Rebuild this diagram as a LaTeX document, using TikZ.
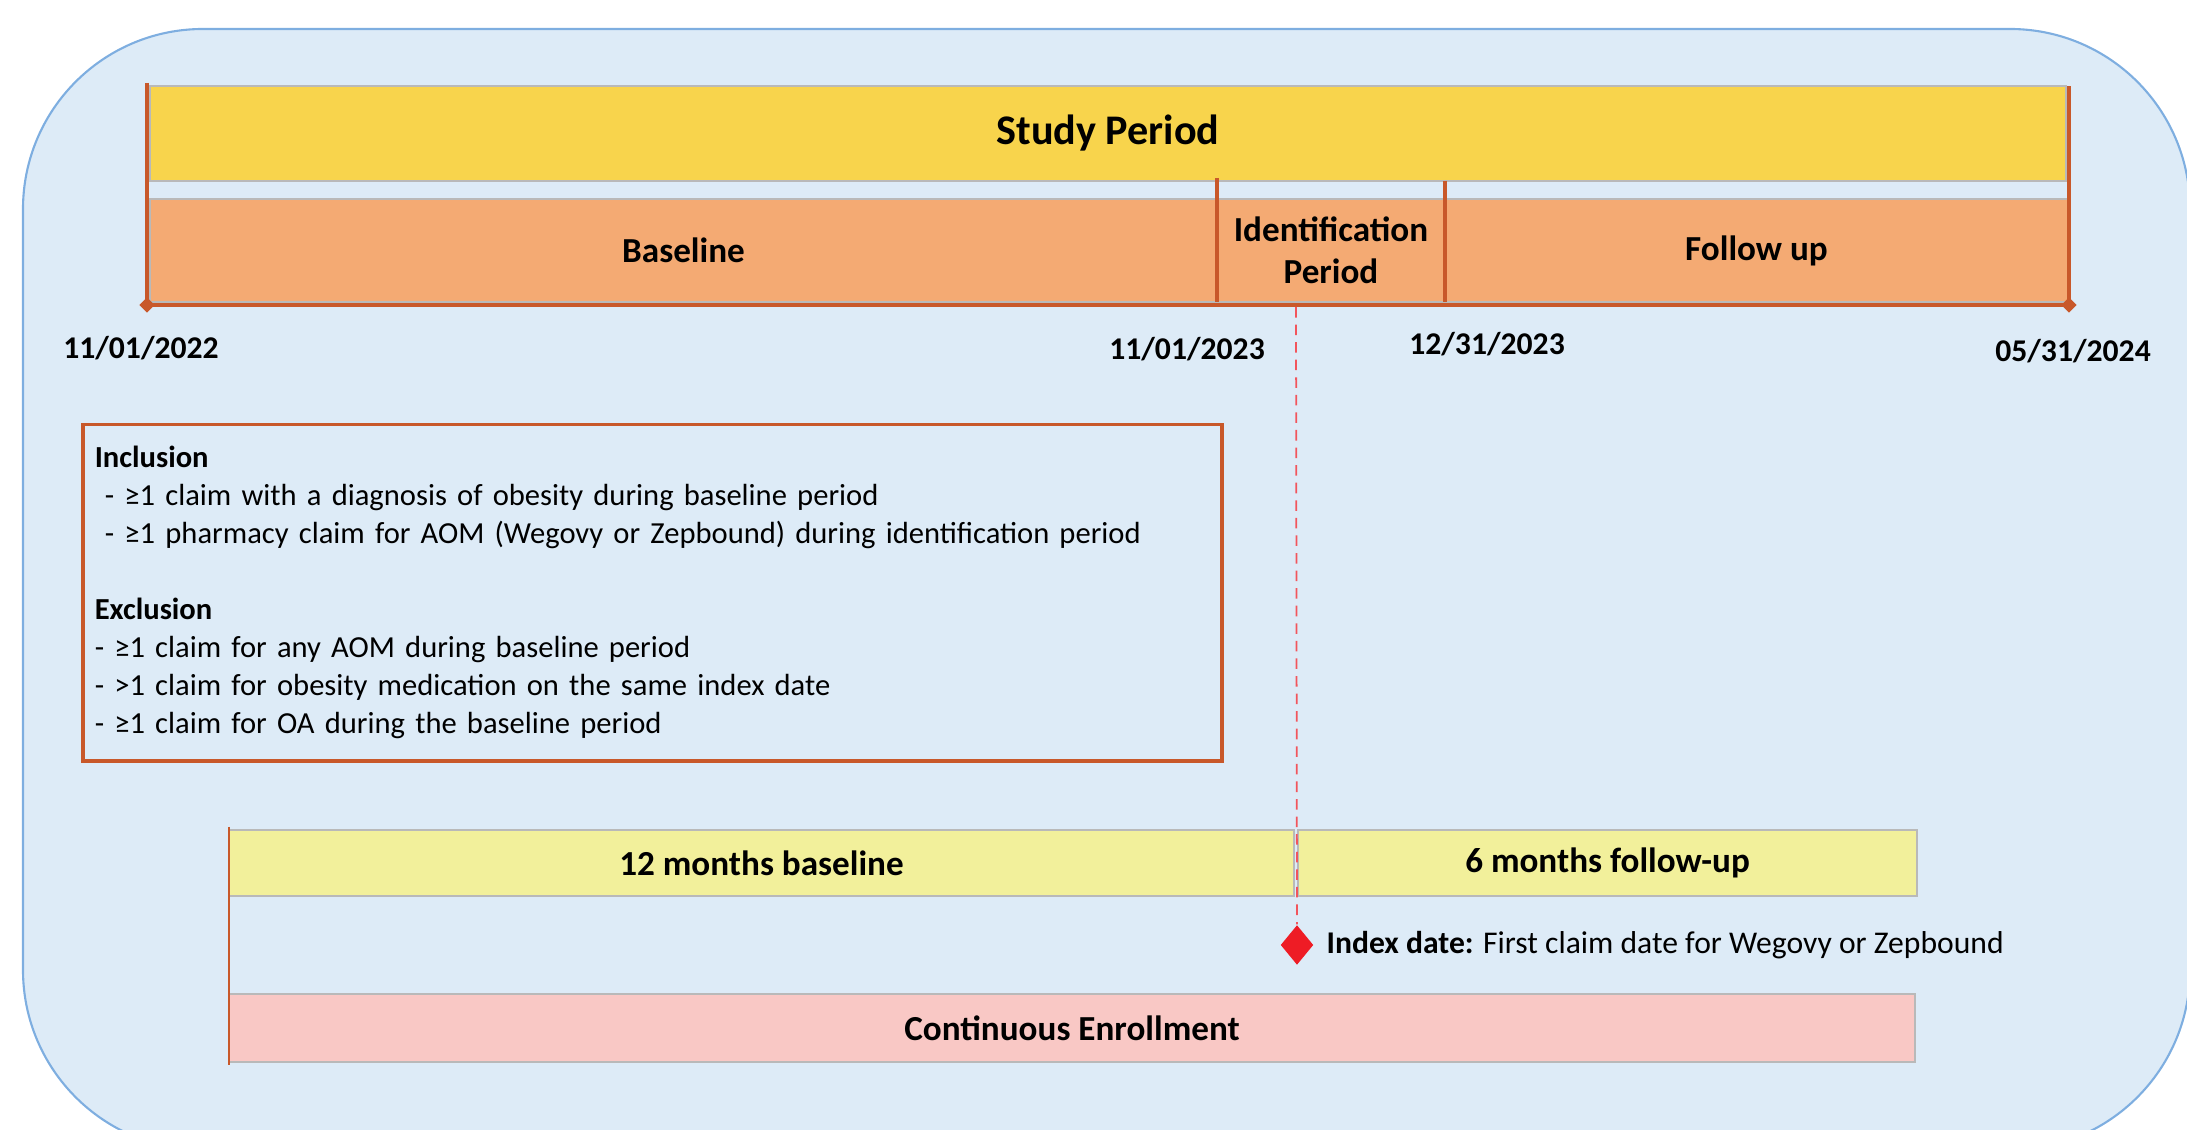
\documentclass[tikz,border=0pt]{standalone}
\usepackage{fontspec}
\setmainfont{Carlito}
\usepackage{xcolor}
\usetikzlibrary{shapes.geometric,positioning}

\definecolor{bgblue}{HTML}{DDEBF7}
\definecolor{bgline}{HTML}{7EAEE0}
\definecolor{studyyellow}{HTML}{F8D44C}
\definecolor{salmon}{HTML}{F4AA73}
\definecolor{tlorange}{HTML}{C8582A}
\definecolor{paleyellow}{HTML}{F2F09B}
\definecolor{palepink}{HTML}{F9C8C5}
\definecolor{idxred}{HTML}{EE1C25}

\begin{document}
\begin{tikzpicture}[
    bar/.style={
        rectangle,
        draw=gray!55,
        line width=0.4pt,
        anchor=north west,
        inner sep=0pt,
        outer sep=0pt,
        align=center,
        font=\fontsize{10}{12}\selectfont\bfseries
      },
    tline/.style={tlorange,line width=1.4pt},
    tick/.style={diamond,fill=tlorange,inner sep=0pt,minimum width=0.16cm,minimum height=0.16cm},
    datelabel/.style={font=\fontsize{9}{11}\selectfont\bfseries},
    critbox/.style={
        rectangle,
        draw=tlorange,
        line width=1pt,
        anchor=north west,
        align=left,
        inner xsep=0.12cm,
        inner ysep=0pt,
        font=\fontsize{8.7}{10.8}\selectfont
      }
    ]

    \useasboundingbox (0,0) rectangle (21.87,-11.30);
    \begin{scope}
      \clip (0,0) rectangle (21.87,-11.30);
      \draw[bgline,fill=bgblue,line width=0.6pt,rounded corners=1.8cm] (0.23,-0.29) rectangle (21.90,-11.50);
    \end{scope}

    \node[bar,fill=studyyellow,minimum width=19.16cm,minimum height=0.95cm,
      font=\fontsize{12}{14}\selectfont\bfseries] (study) at (1.50,-0.86) {Study Period};
    \node[bar,fill=salmon,minimum width=10.67cm,minimum height=1.03cm] (baseline) at (1.50,-1.99) {Baseline};
    \node[bar,fill=salmon,minimum width=2.28cm,minimum height=1.03cm] (ident) at (12.17,-1.99) {Identification\\Period};
    \node[bar,fill=salmon,minimum width=6.23cm,minimum height=1.03cm] (follow) at (14.45,-1.99) {Follow up};

    \coordinate (t0top) at (1.47,-0.83);
    \coordinate (t0) at (1.47,-3.05);
    \coordinate (t3) at (20.69,-3.05);
    \coordinate (t3top) at (20.69,-0.86);
    \draw[tline] (t0top) -- (t0) -- (t3) -- (t3top);
    \draw[tline] (ident.north west) ++(0,0.21) coordinate (t1top) -- (ident.south west);
    \draw[tline] (ident.north east) ++(0,0.18) coordinate (t2top) -- (ident.south east);
    \node[tick] (tick0) at (t0) {};
    \node[tick] (tick3) at (t3) {};

    \node[datelabel] (d0) at (1.41,-3.48) {11/01/2022};
    \node[datelabel] (d1) at (11.87,-3.49) {11/01/2023};
    \node[datelabel] (d2) at (14.87,-3.44) {12/31/2023};
    \node[datelabel] (d3) at (20.73,-3.51) {05/31/2024};

    \node[critbox,text width=11.15cm,minimum height=3.36cm] (criteria) at (0.81,-4.23) {%
      \textbf{Inclusion}\\
      \ - ≥1 claim with a diagnosis of obesity during baseline period\\
      \ - ≥1 pharmacy claim for AOM (Wegovy or Zepbound) during identification period\\[10.8pt]
      \textbf{Exclusion}\\
      - ≥1 claim for any AOM during baseline period\\
      - >1 claim for obesity medication on the same index date\\
      - ≥1 claim for OA during the baseline period};

    \node[bar,fill=paleyellow,minimum width=10.65cm,minimum height=0.66cm] (base12) at (2.29,-8.30) {12 months baseline};
    \node[bar,fill=paleyellow,minimum width=6.19cm,minimum height=0.66cm] (fu6) at (12.98,-8.30) {6 months follow-up};
    \node[bar,fill=palepink,minimum width=16.86cm,minimum height=0.68cm] (enroll) at (2.29,-9.94) {Continuous Enrollment};
    \draw[tlorange,line width=0.6pt] ([yshift=0.03cm]base12.north west) -- ([yshift=-0.03cm]enroll.south west);

    \node[diamond,fill=idxred,inner sep=0pt,minimum width=0.33cm,minimum height=0.40cm] (index) at (12.97,-9.45) {};
    \draw[idxred!75,line width=0.5pt,dash pattern=on 3pt off 2pt] (12.96,-3.07) -- (index.north);
    \node[anchor=west,font=\fontsize{9}{10.8}\selectfont,right=0.0cm of index] (idxlabel) {\textbf{Index date:} First claim date for Wegovy or Zepbound};

  \end{tikzpicture}
\end{document}
